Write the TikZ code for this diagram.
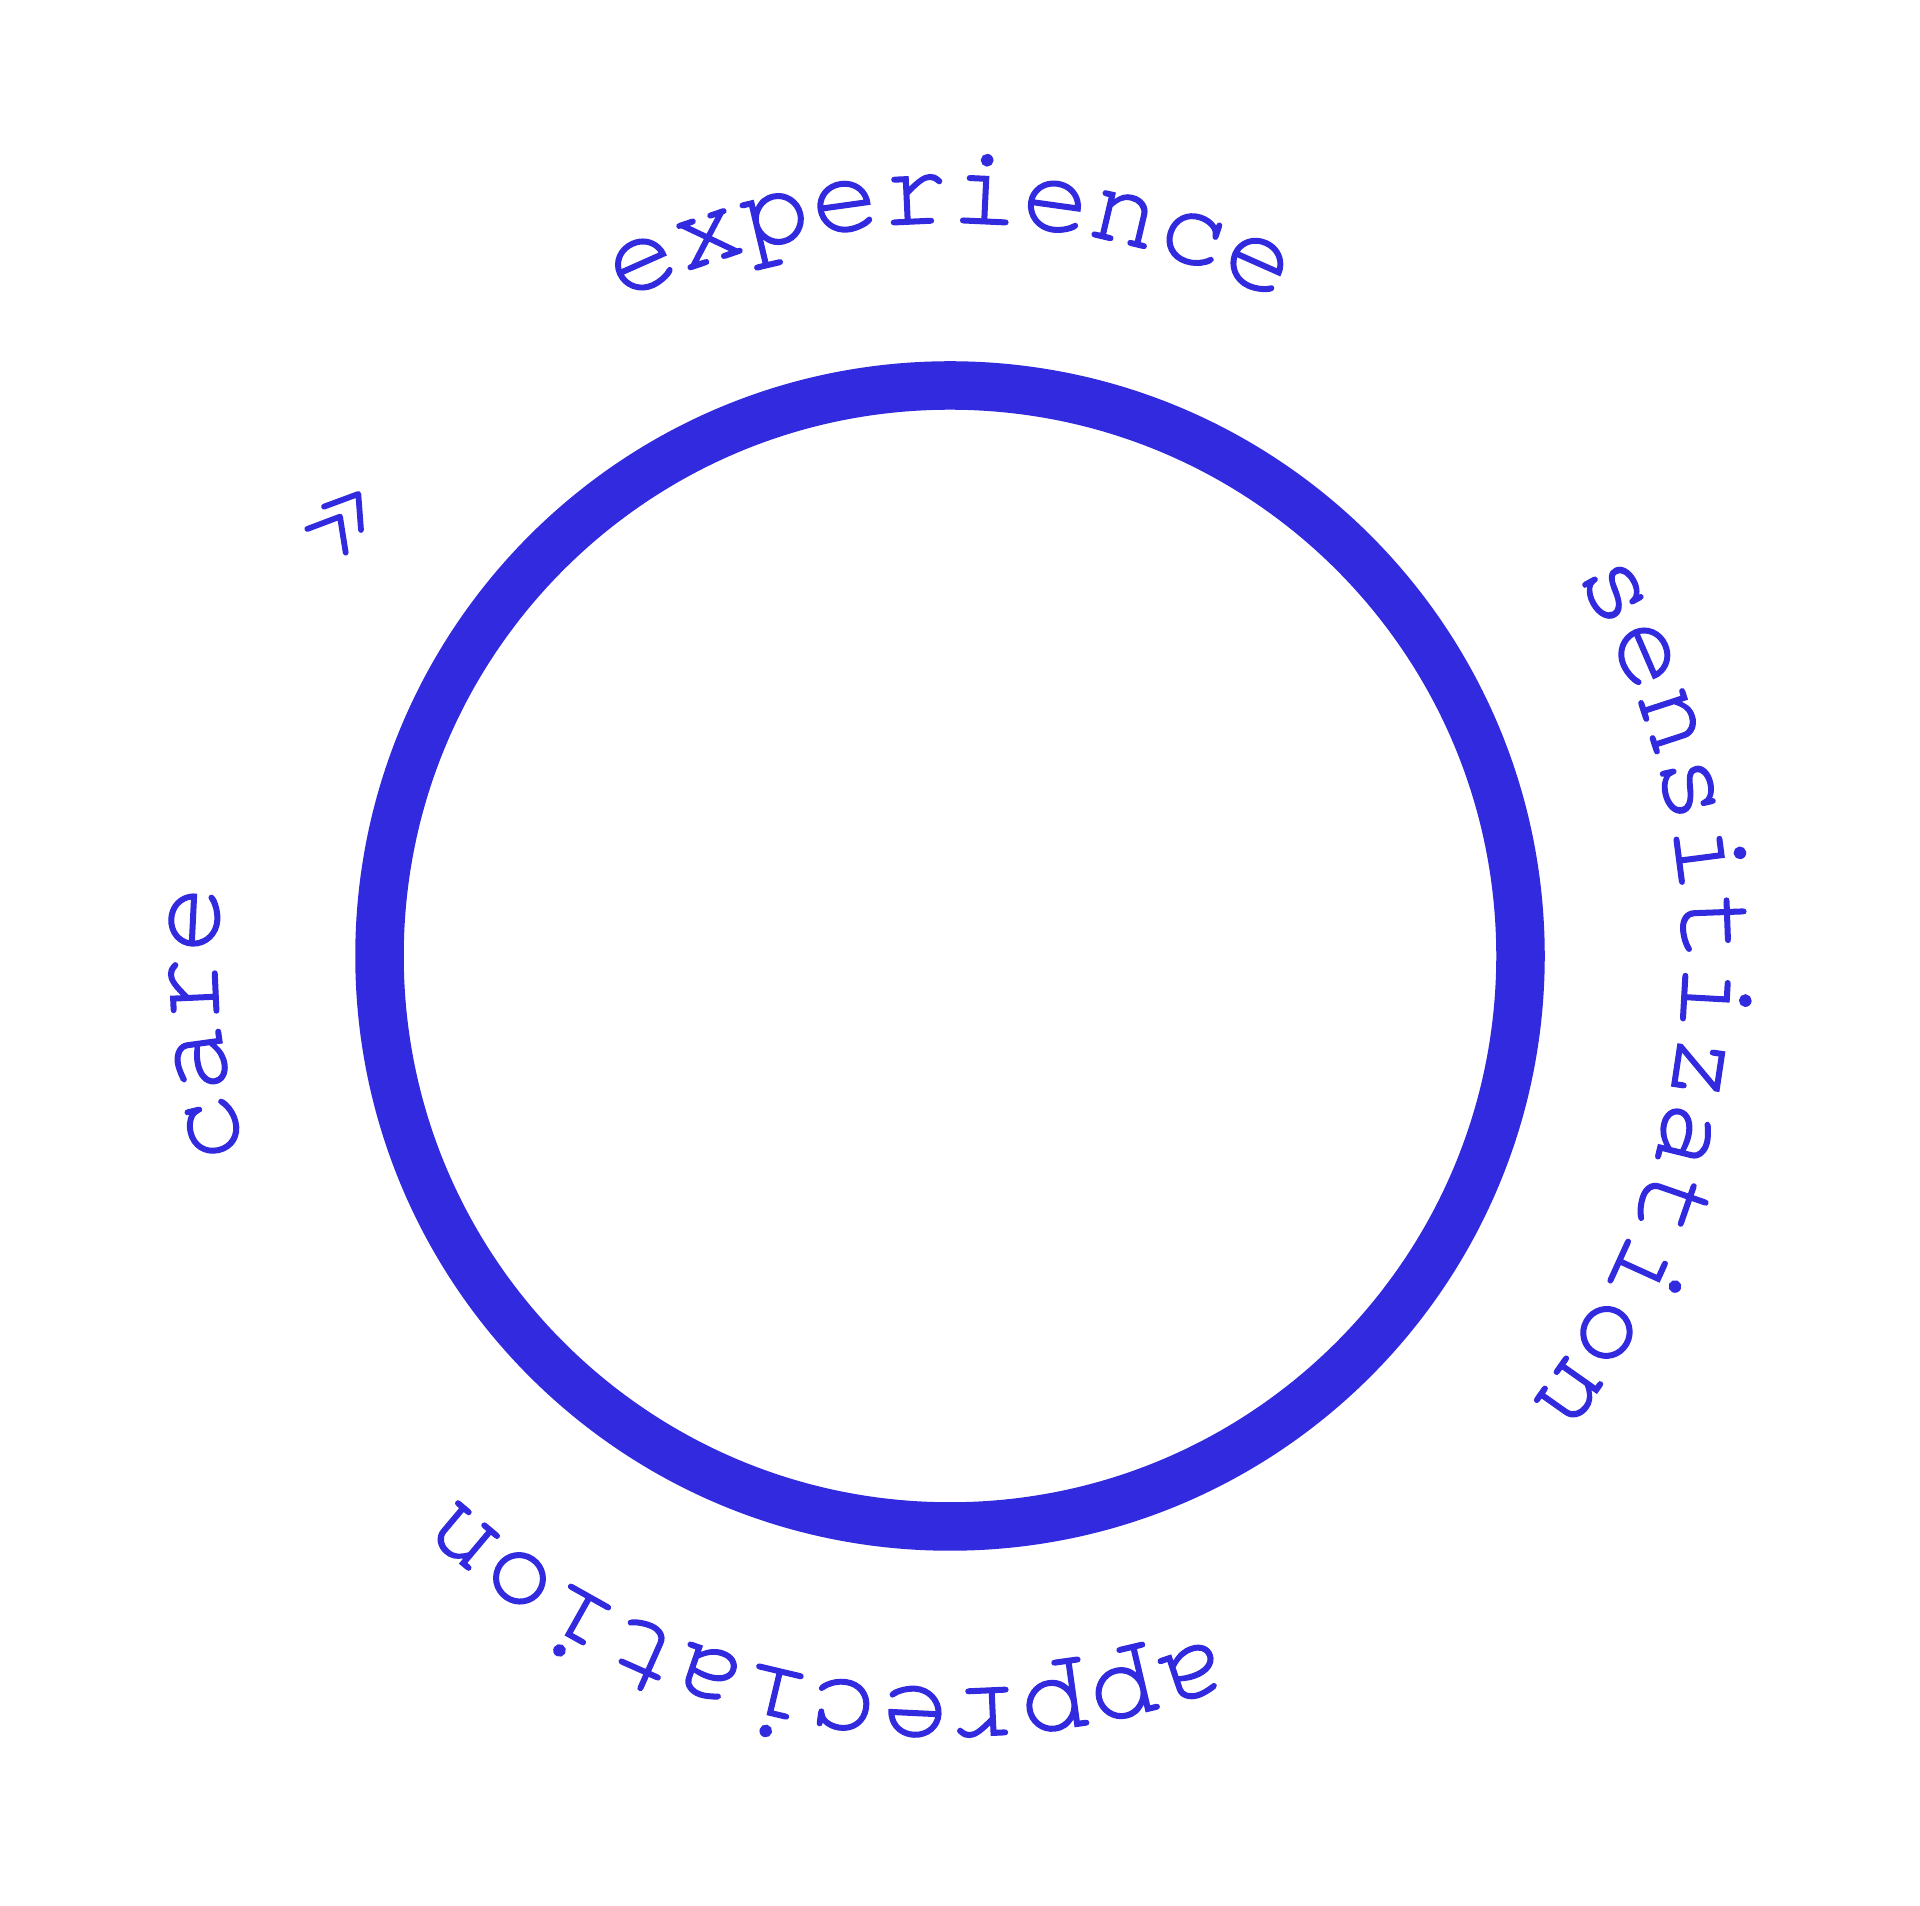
\documentclass[tikz,border=0pt]{standalone}
\usepackage{fontspec}
\newfontfamily\wordfont[FakeBold=1.2]{TeX Gyre Cursor}
\usepackage{tikz}
\usetikzlibrary{decorations.text}
\definecolor{ringblue}{RGB}{50,42,222}
\newcommand\wordsize{\wordfont\fontsize{32.3pt}{32.3pt}\selectfont}

\begin{document}
\begin{tikzpicture}[
  ring/.style={draw=ringblue,line width=0.485cm},
  chevron/.style={draw=ringblue,line width=0.058cm,line cap=round,line join=round},
  circletext/.style={decorate,decoration={text along path,text align=center,
    text color=ringblue,text={|\wordsize|#1}}}]
\useasboundingbox (0,0) rectangle (19.2,19.06);
\coordinate (mid) at (9.5,9.5);
% The ring
\draw[ring] (mid) circle[radius=5.705];
% The words round the ring, read clockwise
\foreach \word/\ang in {experience/90,sensitization/-3.2,appreciation/-100.7,care/185.2}
{
  \path[circletext/.expanded=\word] ([shift={(\ang+45:7.33)}]mid)
    arc[start angle=\ang+45,end angle=\ang-45,radius=7.33];
}
% The double chevron
\draw[chevron] (3.073,13.77) -- (3.40,13.893) -- (3.457,13.533);
\draw[chevron] (3.24,13.993) -- (3.583,14.12) -- (3.61,13.76);
\end{tikzpicture}
\end{document}
